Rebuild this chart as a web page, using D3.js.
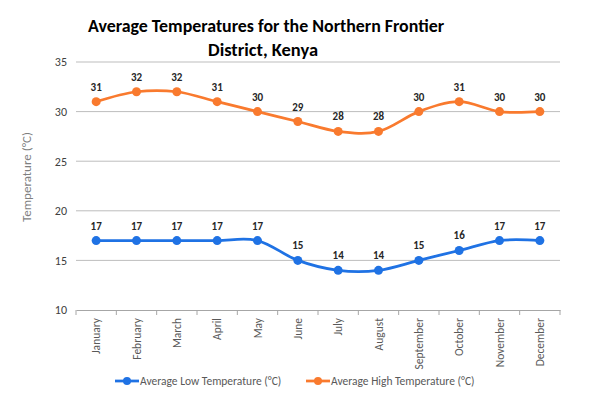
<!DOCTYPE html>
<html><head><meta charset="utf-8">
<script src="https://cdn.jsdelivr.net/npm/d3@7"></script>
<style>body{margin:0;background:#fff}svg{display:block}</style>
</head><body>
<svg id="c" width="600" height="399"></svg>
<script>
const months = ["January","February","March","April","May","June","July","August","September","October","November","December"];
const lowTemps = [17,17,17,17,17,15,14,14,15,16,17,17];
const highTemps = [31,32,32,31,30,29,28,28,30,31,30,30];
const yTicks = [10,15,20,25,30,35];
const seriesNames = ["Average Low Temperature (°C)","Average High Temperature (°C)"];
const colors = ["#1F72E4","#F97A2E"];

const svg = d3.select("#c");
const font = "Calibri, Carlito, 'Open Sans', sans-serif";
const m = {l:76, r:560, t:62, b:310};
const x = d3.scaleBand().domain(months).range([m.l, m.r]);
const y = d3.scaleLinear().domain([10,35]).range([m.b, m.t]);

// gridlines
svg.append("g").selectAll("line").data(yTicks.filter(t=>t>10)).join("line")
  .attr("x1", m.l).attr("x2", m.r).attr("y1", d=>y(d)).attr("y2", d=>y(d))
  .attr("stroke", "#bdbdbd").attr("stroke-width", 1);

// y axis labels
const ya = svg.append("g").attr("transform", `translate(${m.l},0)`)
  .call(d3.axisLeft(y).tickValues(yTicks).tickSize(0).tickPadding(9));
ya.select(".domain").remove();
ya.selectAll("text").attr("font-family", font).attr("font-size", 12).attr("fill", "#404040");

// x axis
const xa = svg.append("g").attr("transform", `translate(0,${m.b})`)
  .call(d3.axisBottom(x).tickSize(0));
xa.select(".domain").attr("stroke", "#a6a6a6");
xa.selectAll(".tick text").remove();
const bounds = d3.range(13).map(i => m.l + i * x.step());
xa.selectAll(".bt").data(bounds).join("line").attr("class","bt")
  .attr("x1", d=>d).attr("x2", d=>d).attr("y1", 0).attr("y2", 5).attr("stroke", "#a6a6a6");
svg.append("g").selectAll("text").data(months).join("text")
  .attr("transform", d => `translate(${x(d)+x.bandwidth()/2+4},${m.b+8}) rotate(-90)`)
  .attr("text-anchor", "end").attr("font-family", font).attr("font-size", 11.5)
  .attr("fill", "#595959").text(d=>d);

// y title
svg.append("text").attr("transform", `translate(31,177) rotate(-90)`)
  .attr("text-anchor","middle").attr("font-family", font).attr("font-size", 13)
  .attr("fill", "#7f7f7f").text("Temperature (°C)");

// title
svg.append("text").attr("x", 266).attr("y", 32).attr("text-anchor","middle")
  .attr("font-family", font).attr("font-weight","bold").attr("font-size", 19)
  .attr("textLength", 356).attr("lengthAdjust","spacingAndGlyphs")
  .attr("fill","#000").text("Average Temperatures for the Northern Frontier");
svg.append("text").attr("x", 263).attr("y", 56).attr("text-anchor","middle")
  .attr("font-family", font).attr("font-weight","bold").attr("font-size", 19)
  .attr("textLength", 110).attr("lengthAdjust","spacingAndGlyphs")
  .attr("fill","#000").text("District, Kenya");

const cx = d => x(d) + x.bandwidth()/2;
const line = d3.line().x(d=>cx(d.m)).y(d=>y(d.v)).curve(d3.curveCardinal.tension(0));
[lowTemps, highTemps].forEach((vals, si) => {
  const data = vals.map((v,i)=>({m:months[i], v}));
  const g = svg.append("g");
  g.append("path").datum(data).attr("d", line).attr("fill","none")
    .attr("stroke", colors[si]).attr("stroke-width", 2.75);
  g.selectAll("circle").data(data).join("circle")
    .attr("cx", d=>cx(d.m)).attr("cy", d=>y(d.v)).attr("r", 4.5).attr("fill", colors[si]);
  g.selectAll("text").data(data).join("text")
    .attr("x", d=>cx(d.m)).attr("y", d=>y(d.v)-11).attr("text-anchor","middle")
    .attr("font-family", font).attr("font-weight","bold").attr("font-size", 11)
    .attr("fill","#262626").text(d=>d.v);
});

// legend
const legX = [115, 306];
seriesNames.forEach((n, i) => {
  const g = svg.append("g").attr("transform", `translate(${legX[i]},381)`);
  g.append("line").attr("x1",0).attr("x2",24).attr("stroke",colors[i]).attr("stroke-width",2.75);
  g.append("circle").attr("cx",12).attr("r",4).attr("fill",colors[i]);
  g.append("text").attr("x",25).attr("y",4).attr("font-family",font).attr("font-size",11.5)
    .attr("fill","#595959").text(n);
});
</script>
</body></html>
